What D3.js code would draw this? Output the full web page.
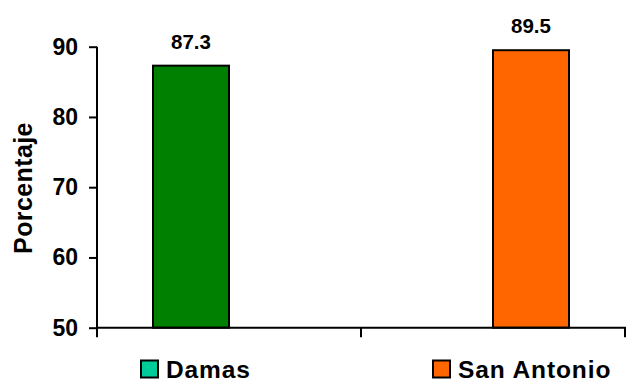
<!DOCTYPE html>
<html>
<head>
<meta charset="utf-8">
<script src="https://cdn.jsdelivr.net/npm/d3@7"></script>
<style>
  body { margin: 0; background: #fff; }
  svg { display: block; font-family: "Liberation Sans", Arial, sans-serif; font-weight: bold; }
</style>
</head>
<body>
<svg id="chart" width="626" height="381"></svg>
<script>
// datos
const groups = ["g1", "g2"];
const series = ["Damas", "San Antonio"];
const damasValues = [87.3, null];
const sanAntonioValues = [null, 89.5];
const yTicks = [50, 60, 70, 80, 90];

const barColors = { "Damas": "#008000", "San Antonio": "#FF6600" };
const legendColors = { "Damas": "#00CC99", "San Antonio": "#FF6600" };

const rows = groups.map((g, i) => ({
  group: g,
  values: [
    { key: "Damas", value: damasValues[i] },
    { key: "San Antonio", value: sanAntonioValues[i] }
  ]
}));

const svg = d3.select("#chart");
const plotLeft = 97, plotRight = 625, plotTop = 46.7, plotBottom = 327.7;

const x0 = d3.scaleBand().domain(groups).range([plotLeft, plotRight]).padding(0);
const x1 = d3.scaleBand().domain(series).range([0, x0.bandwidth()])
  .paddingInner(0).paddingOuter(0.737);
const y = d3.scaleLinear().domain([50, 90]).range([plotBottom, plotTop]);

// eje Y
const yAxis = svg.append("g")
  .attr("transform", `translate(${plotLeft},0)`)
  .call(d3.axisLeft(y).tickValues(yTicks).tickSize(8).tickPadding(11).tickSizeOuter(0));
yAxis.select(".domain").remove();
yAxis.selectAll("line").attr("stroke", "#000").attr("stroke-width", 2);
yAxis.selectAll("text").attr("font-size", 23).attr("fill", "#000")
  .attr("font-family", "Liberation Sans, Arial, sans-serif").attr("font-weight", "bold");

svg.append("line")
  .attr("x1", plotLeft).attr("x2", plotLeft)
  .attr("y1", plotTop).attr("y2", plotBottom + 9.5)
  .attr("stroke", "#000").attr("stroke-width", 2);

// barras
const bars = svg.append("g").selectAll("g")
  .data(rows)
  .join("g")
  .attr("transform", d => `translate(${x0(d.group)},0)`);

bars.selectAll("rect")
  .data(d => d.values.filter(v => v.value != null))
  .join("rect")
  .attr("x", d => x1(d.key))
  .attr("y", d => y(d.value))
  .attr("width", x1.bandwidth())
  .attr("height", d => y(50) - y(d.value))
  .attr("fill", d => barColors[d.key])
  .attr("stroke", "#000")
  .attr("stroke-width", 2);

bars.selectAll("text")
  .data(d => d.values.filter(v => v.value != null))
  .join("text")
  .attr("x", d => x1(d.key) + x1.bandwidth() / 2)
  .attr("y", d => y(d.value) - 17)
  .attr("text-anchor", "middle")
  .attr("font-size", 20.5)
  .text(d => d3.format(".1f")(d.value));

// eje X
svg.append("line")
  .attr("x1", plotLeft).attr("x2", plotRight + 1)
  .attr("y1", plotBottom).attr("y2", plotBottom)
  .attr("stroke", "#000").attr("stroke-width", 2);

const bounds = groups.map(g => x0(g) + x0.bandwidth());
svg.append("g").selectAll("line")
  .data(bounds)
  .join("line")
  .attr("x1", d => d).attr("x2", d => d)
  .attr("y1", plotBottom).attr("y2", plotBottom + 9.5)
  .attr("stroke", "#000").attr("stroke-width", 2);

// título eje Y
svg.append("text")
  .attr("transform", "translate(32,188) rotate(-90)")
  .attr("text-anchor", "middle")
  .attr("font-size", 25)
  .attr("letter-spacing", 0.4)
  .text("Porcentaje");

// leyenda
const legendX = [141, 433];
const legend = svg.append("g").selectAll("g")
  .data(series)
  .join("g")
  .attr("transform", (d, i) => `translate(${legendX[i]},360.5)`);

legend.append("rect")
  .attr("width", 17).attr("height", 17)
  .attr("fill", d => legendColors[d])
  .attr("stroke", "#000").attr("stroke-width", 2);

legend.append("text")
  .attr("x", 25).attr("y", 17.5)
  .attr("font-size", 24.5)
  .attr("letter-spacing", 0.9)
  .text(d => d);
</script>
</body>
</html>
